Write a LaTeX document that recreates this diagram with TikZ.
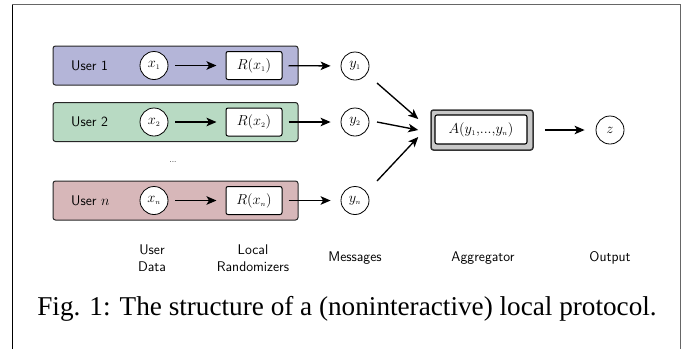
\documentclass[tikz,border=0pt]{standalone}
\usepackage{fontspec}
\newfontfamily\capfont{Liberation Serif}
\usetikzlibrary{arrows.meta,calc}

\definecolor{userA}{RGB}{180,181,216}
\definecolor{userB}{RGB}{184,218,195}
\definecolor{userC}{RGB}{215,183,185}
\definecolor{aggfill}{RGB}{200,200,200}

\begin{document}
\begin{tikzpicture}[x=1pt,y=-1pt,
  every node/.style={font=\fontsize{14}{17}\selectfont},
  lbl/.style={font=\sffamily\fontsize{14}{17}\selectfont, inner sep=0pt, align=center},
  userbox/.style={draw=black!85, line width=1pt, rounded corners=2.5pt,
    minimum width=245pt, minimum height=39pt, inner sep=0pt},
  datum/.style={circle, draw, fill=white, line width=0.8pt, minimum size=28pt, inner sep=0pt},
  randbox/.style={draw, fill=white, line width=1pt, rounded corners=2pt,
    minimum width=56pt, minimum height=28pt, inner sep=0pt},
  arr/.style={-{Stealth[length=10pt,width=8.5pt,inset=2.5pt]}, line width=1.35pt},
]
\useasboundingbox (0,0) rectangle (683,349);

% frame
\draw[line width=1pt] (12,349) -- (12,4);
\draw[line width=1pt, black!60] (12,4) -- (680,4) -- (680,349);

% users
\node[userbox, fill=userA] (u1) at (175.5,65.5) {};
\node[userbox, fill=userB] (u2) at (175.5,122) {};
\node[userbox, fill=userC] (un) at (175.5,200.5) {};
\node[lbl, anchor=west] (u1l) at (71,65.5) {User 1};
\node[lbl, anchor=west] (u2l) at (71,122) {User 2};
\node[lbl, anchor=west] (unl) at (71,200.5) {User $n$};

\node[datum] (x1) at (154,65.5) {$x_{\scriptscriptstyle 1}$};
\node[datum] (x2) at (154,122) {$x_{\scriptscriptstyle 2}$};
\node[datum] (xn) at (154,200.5) {$x_{\scriptscriptstyle n}$};

\node[randbox] (r1) at (254,65.5) {$R(x_{\scriptscriptstyle 1})$};
\node[randbox] (r2) at (254,122) {$R(x_{\scriptscriptstyle 2})$};
\node[randbox] (rn) at (254,200.5) {$R(x_{\scriptscriptstyle n})$};

\node[datum] (y1) at (355,66) {$y_{\scriptscriptstyle 1}$};
\node[datum] (y2) at (355,122) {$y_{\scriptscriptstyle 2}$};
\node[datum] (yn) at (355,200.5) {$y_{\scriptscriptstyle n}$};

\node[font=\sffamily\fontsize{8}{10}\selectfont] (dots) at (173,162) {...};

\foreach \i in {1,2,n}{
  \draw[arr, shorten <=7pt, shorten >=9pt] (x\i) -- (r\i);
  \draw[arr, shorten <=6pt, shorten >=10pt] (r\i) -- (y\i);
}

% aggregator
\node[draw=black!80, line width=1.5pt, fill=aggfill, rounded corners=2.5pt,
  minimum width=102pt, minimum height=40pt, inner sep=0pt] (agg) at (482,130) {};
\node[draw, fill=white, line width=1.1pt, rounded corners=2pt,
  minimum width=92pt, minimum height=29pt, inner sep=0pt] (aggin) at (481,129.5)
  {$A(y_{\scriptscriptstyle 1}{,}{.}{.}{.}{,}y_{\scriptscriptstyle n})$};
\node[datum] (z) at (610,130) {$z$};
\draw[arr, shorten <=11pt, shorten >=11pt] (agg) -- (z);

% messages into the aggregator
\coordinate (s1) at ($(y1)+(22,17)$);
\coordinate (s2) at ($(y2)+(22,0)$);
\coordinate (sn) at ($(yn)+(22,-19.5)$);
\coordinate (e1) at ($(agg.west)+(-12,-11)$);
\coordinate (e2) at ($(agg.west)+(-12,0)$);
\coordinate (en) at ($(agg.west)+(-12,7)$);
\draw[arr] (s1) -- (e1);
\draw[arr] (s2) -- (e2);
\draw[arr] (sn) -- (en);

% column labels
\node[lbl] (cdata) at (152,258) {User\\Data};
\node[lbl] (crand) at (253,258) {Local\\Randomizers};
\node[lbl] (cmsg) at (355,258) {Messages};
\node[lbl] (cagg) at (483,258) {Aggregator};
\node[lbl] (cout) at (610,258) {Output};

% caption
\node[font=\capfont\fontsize{27.2}{32}\selectfont, anchor=base, inner sep=0pt] (cap) at (347,315)
  {Fig. 1: The structure of a (noninteractive) local protocol.};
\end{tikzpicture}
\end{document}
